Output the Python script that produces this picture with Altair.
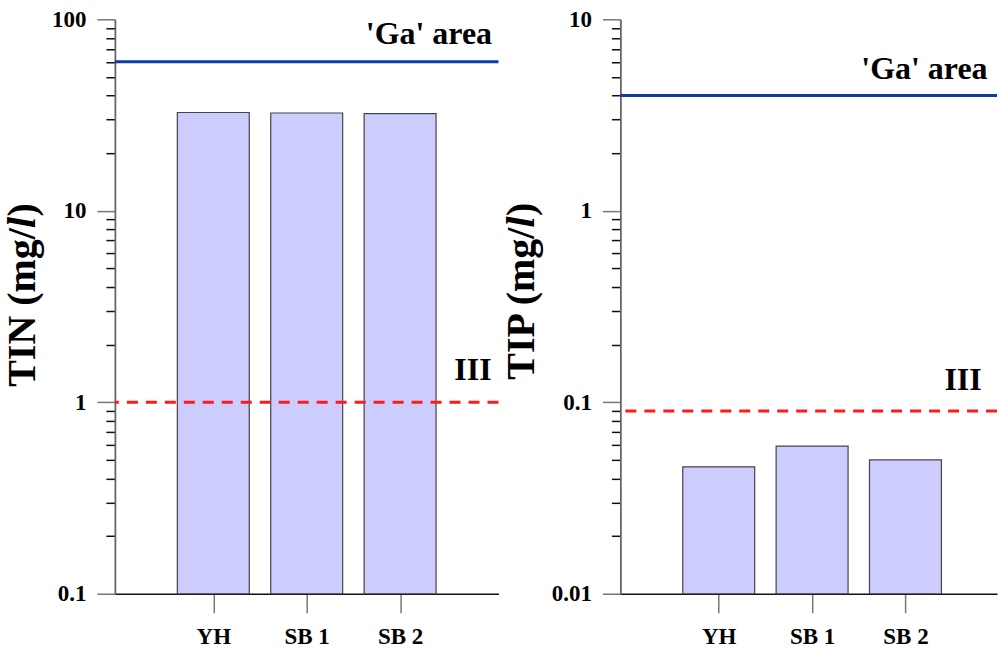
import altair as alt
import pandas as pd

# ---- data ----
sites = ["YH", "SB 1", "SB 2"]
site_pos = [1, 2, 3]
tin_values = [32.6, 32.4, 32.2]
tip_values = [0.046, 0.059, 0.050]
tin_ga, tin_iii = 60.0, 1.0
tip_ga, tip_iii = 4.0, 0.09
tin_domain = [0.1, 100]
tip_domain = [0.01, 10]
ga_label = "'Ga' area"
iii_label = "III"
tin_title = ["TIN (mg/", "l", ")"]
tip_title = ["TIP (mg/", "l", ")"]
mantissas = [1, 2, 3, 4, 5, 6, 7, 8, 9]
tin_ticks = [round(m * 10 ** e, 6) for e in [-1, 0, 1] for m in mantissas] + [100]
tip_ticks = [round(m * 10 ** e, 6) for e in [-2, -1, 0] for m in mantissas] + [10]

FONT = "Liberation Serif"
MAJOR = "abs(log(datum.value)/LN10 - round(log(datum.value)/LN10)) < 0.001"
label_list = "[''," + ",".join("'" + s + "'" for s in sites) + "]"


def title_piece(text, x, y, align, italic=False):
    return alt.Chart(pd.DataFrame({"t": [text]})).mark_text(
        angle=270, align=align, baseline="alphabetic", font=FONT, fontSize=40,
        fontWeight="bold", fontStyle="italic" if italic else "normal",
        color="black"
    ).encode(x=alt.value(x), y=alt.value(y), text="t:N")


def panel(values, ga, iii, domain, ticks, title, width, xmax, ga_x, iii_x,
          ga_dy, iii_dy, title_x, title_y):
    df = pd.DataFrame({"site": sites, "pos": site_pos, "value": values})
    y_scale = alt.Scale(type="log", domain=domain)
    x_scale = alt.Scale(domain=[0, xmax], nice=False, zero=False)
    yaxis = alt.Axis(
        values=ticks,
        labelExpr=f"{MAJOR} ? format(datum.value, '~g') : ''",
        labelOverlap=False,
        tickSize={"condition": {"test": MAJOR, "value": 18}, "value": 9},
        tickColor={"condition": {"test": MAJOR, "value": "#777777"}, "value": "#111111"},
        tickWidth=1.5,
        domainColor="#666666",
        domainWidth=1.8,
        labelPadding=11,
        title="".join(title),
        titlePadding=6,
        titleOpacity=0,
    )
    xaxis = alt.Axis(
        values=site_pos,
        labelExpr=f"{label_list}[datum.value]",
        tickSize=19,
        tickColor="#777777",
        tickWidth=1.5,
        domainColor="#111111",
        domainWidth=1.5,
        labelPadding=13,
        title=None,
    )
    bars = alt.Chart(df).mark_bar(
        size=72, color="#ccccff", stroke="#444444", strokeWidth=1.2
    ).encode(
        x=alt.X("pos:Q", scale=x_scale, axis=xaxis),
        y=alt.Y("value:Q", scale=y_scale, axis=yaxis),
        y2=alt.datum(domain[0]),
    )
    ref = pd.DataFrame({"value": [ga, iii], "kind": ["ga", "iii"]})
    ga_rule = alt.Chart(ref[ref.kind == "ga"]).mark_rule(
        color="#0b3ca6", strokeWidth=3
    ).encode(y=alt.Y("value:Q"))
    iii_rule = alt.Chart(ref[ref.kind == "iii"]).mark_rule(
        color="#ff1a1a", strokeWidth=3, strokeDash=[11, 8]
    ).encode(y=alt.Y("value:Q"))
    txt = pd.DataFrame({"value": [ga, iii], "label": [ga_label, iii_label],
                        "pos": [ga_x, iii_x]})
    ga_text = alt.Chart(txt.iloc[[0]]).mark_text(
        align="right", baseline="alphabetic", dy=ga_dy, font=FONT,
        fontSize=32, fontWeight="bold", color="black"
    ).encode(x=alt.X("pos:Q"), y=alt.Y("value:Q"), text="label:N")
    iii_text = alt.Chart(txt.iloc[[1]]).mark_text(
        align="right", baseline="alphabetic", dy=iii_dy, font=FONT,
        fontSize=32, fontWeight="bold", color="black"
    ).encode(x=alt.X("pos:Q"), y=alt.Y("value:Q"), text="label:N")
    t1 = title_piece(title[0], title_x, title_y, "right")
    t2 = title_piece(title[1], title_x, title_y, "left", italic=True)
    t3 = title_piece(title[2], title_x, title_y - 11.5, "left")
    return alt.layer(bars, ga_rule, iii_rule, ga_text, iii_text, t1, t2, t3).properties(
        width=width, height=575
    )


left = panel(tin_values, tin_ga, tin_iii, tin_domain, tin_ticks, tin_title,
             384, 4.0, 3.985, 3.98, -18, -22, -80, 209)
right = panel(tip_values, tip_ga, tip_iii, tip_domain, tip_ticks, tip_title,
              377, 377 / 96, 3.88, 3.817, -17, -21, -86, 208.5)

chart = alt.hconcat(left, right, spacing=2).properties(
    padding={"left": 3, "top": 8, "right": 0, "bottom": 0}
).configure_axis(
    labelFont=FONT, labelFontSize=23, labelFontWeight="bold", labelColor="black",
    titleFont=FONT, titleFontSize=40, titleFontWeight="bold", titleColor="black",
    grid=False,
).configure_view(stroke=None)

chart.save("out.html", embed_options={"renderer": "svg", "actions": False})
